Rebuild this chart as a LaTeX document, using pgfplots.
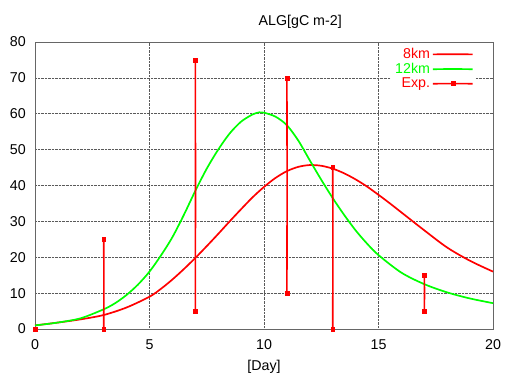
\documentclass[border=0pt]{standalone}
\usepackage{pgfplots}
\pgfplotsset{compat=1.18}
\usepackage{fontspec}
\setmainfont{Liberation Sans}
\definecolor{gpred}{RGB}{255,0,0}
\definecolor{gpgreen}{RGB}{0,255,0}
\definecolor{gpgrid}{RGB}{90,90,90}
\begin{document}
\begin{tikzpicture}
\path[use as bounding box] (0,0) rectangle (506bp,378bp);
\begin{axis}[
  at={(35bp,49bp)}, anchor=south west,
  scale only axis, width=458bp, height=287bp,
  xmin=0, xmax=20, ymin=0, ymax=80,
  xtick={0,5,10,15,20}, ytick={0,10,20,30,40,50,60,70,80},
  font=\fontsize{14.3}{16}\selectfont,
  /pgf/number format/assume math mode=true,
  grid=major,
  major grid style={gpgrid, densely dotted, line width=0.6pt},
  axis line style={gray!80!black, line width=0.8pt},
  tick style={draw=none},
  xticklabel style={anchor=base, inner sep=0pt, yshift=-20bp},
  yticklabel style={anchor=east, inner sep=0pt, xshift=-9bp},
  xlabel={[Day]},
  xlabel style={at={(axis description cs:0.5,0)}, anchor=center, yshift=-38bp},
  title={ALG[gC m-2]},
  title style={at={(axis description cs:0.579,1)}, anchor=center, yshift=14bp},
  clip=false,
  legend cell align=right,
  legend plot pos=right,
  legend style={at={(0.962,0.992)}, anchor=north east, draw=none, fill=white,
    row sep=-1pt, inner sep=2pt},
  legend image code/.code={\draw[mark repeat=2,mark phase=2,#1] plot coordinates {(0cm,0cm) (0.7cm,0.15pt) (1.4cm,0cm)};},
  errbar/.style={draw=gpred, line width=1.6pt, mark=square*, mark size=2pt,
    mark options={solid, fill=gpred, draw=gpred, line width=0.4pt}},
]
\addplot[draw=gpred, line width=1.7pt, smooth, no marks] coordinates {
(0,1.0) (1,1.8) (2,2.7) (3,3.9) (4,6.0) (5,9.0) (5.5,11.2) (6,13.8) (6.5,16.7) (7,19.8)
(7.5,23.1) (8,26.5) (8.5,30.0) (9,33.4) (9.5,36.7) (10,39.6) (10.5,42.1) (11,44.0)
(11.5,45.2) (12,45.7) (12.5,45.5) (13,44.7) (13.5,43.4) (14,41.7) (14.5,39.7) (15,37.4)
(15.5,35.0) (16,32.5) (17,27.5) (18,22.7) (19,19.0) (20,16.0)};
\addlegendentry[text=gpred]{8km}
\addplot[draw=gpgreen, line width=1.7pt, smooth, no marks] coordinates {
(0,1.0) (1,1.8) (2,3.0) (3,5.5) (3.5,7.2) (4,9.5) (4.5,12.4) (5,16.0) (5.5,20.5) (6,25.6)
(6.5,31.8) (7,38.5) (7.5,44.7) (8,50.0) (8.5,54.5) (9,57.8) (9.5,59.8) (9.8,60.4)
(10,60.3) (10.5,59.2) (11,56.8) (11.5,52.5) (12,47.0) (12.5,41.6) (13,36.5) (13.5,31.8)
(14,27.5) (14.5,23.8) (15,20.6) (16,15.7) (17,12.5) (18,10.2) (19,8.5) (20,7.2)};
\addlegendentry[text=gpgreen]{12km}
\addplot[errbar] coordinates {(0,0) (0,0)};
\addlegendentry[text=gpred]{Exp.}
\addplot[errbar, forget plot, mark indices={1,3}] coordinates {(3,0) (3.01,12.5) (3,25)};
\addplot[errbar, forget plot, mark indices={1,3}] coordinates {(7,5) (7.01,40) (7,75)};
\addplot[errbar, forget plot, mark indices={1,3}] coordinates {(11,10) (11.01,40) (11,70)};
\addplot[errbar, forget plot, mark indices={1,3}] coordinates {(13,0) (13.01,22.5) (13,45)};
\addplot[errbar, forget plot, mark indices={1,3}] coordinates {(17,5) (17.01,10) (17,15)};
\end{axis}
\end{tikzpicture}
\end{document}
